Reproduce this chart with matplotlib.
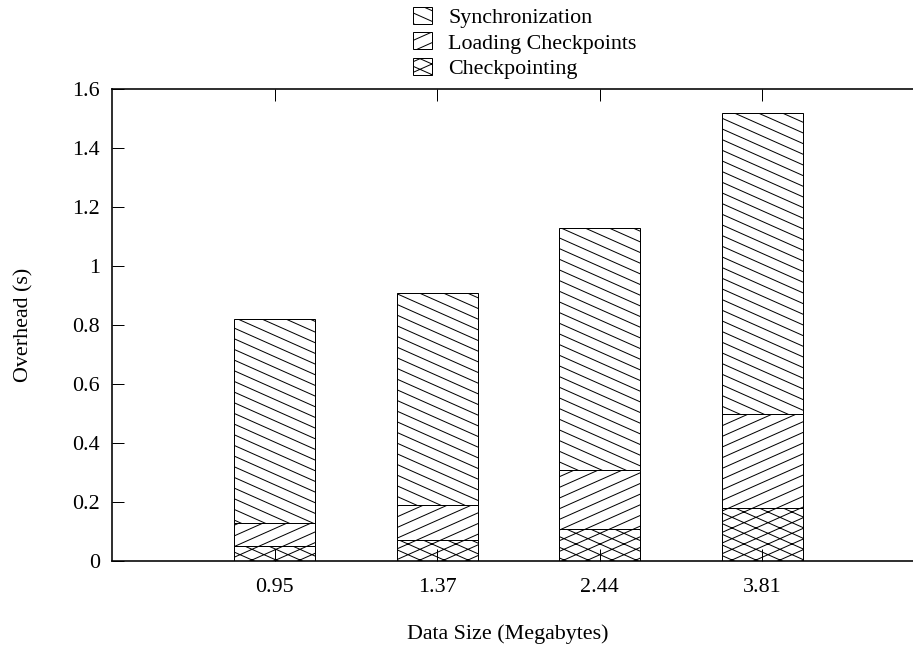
import numpy as np
import matplotlib
matplotlib.use("Agg")
import matplotlib.pyplot as plt
import matplotlib.hatch as mhatch
from matplotlib.patches import Rectangle

# --- dati ---
data_sizes = ["0.95", "1.37", "2.44", "3.81"]
checkpointing = [0.05, 0.07, 0.11, 0.18]
loading = [0.08, 0.12, 0.20, 0.32]          # loading checkpoints
synchronization = [0.69, 0.72, 0.82, 1.02]

N_LINES = 9      # hatch lines per tile
RISE = 4         # slope = RISE / N_LINES, keeps the tile periodic


# gnuplot-like shallow hatches instead of the 45 deg ones
class ShallowHatch(mhatch.HatchPatternBase):
    chars = ''
    sign = 1

    def __init__(self, hatch, density):
        count = sum(hatch.count(c) for c in self.chars)
        self.n = count * N_LINES
        if self.n:
            self.y0 = np.arange(-self.n, 2 * self.n + 1) / self.n
            self.num_vertices = 2 * len(self.y0)
        else:
            self.num_vertices = 0

    def set_vertices_and_codes(self, vertices, codes):
        vertices[0::2, 0] = 0.0
        vertices[0::2, 1] = self.y0
        vertices[1::2, 0] = 1.0
        vertices[1::2, 1] = self.y0 + self.sign * RISE / N_LINES
        codes[0::2] = mhatch.Path.MOVETO
        codes[1::2] = mhatch.Path.LINETO


class ShallowNE(ShallowHatch):
    chars = '/xX'
    sign = 1


class ShallowSE(ShallowHatch):
    chars = '\\xX'
    sign = -1


mhatch._hatch_types = [ShallowNE if t is mhatch.NorthEastHatch else
                       ShallowSE if t is mhatch.SouthEastHatch else t
                       for t in mhatch._hatch_types]

plt.rcParams['font.family'] = ['Liberation Serif', 'DejaVu Serif']
plt.rcParams['hatch.linewidth'] = 0.75
plt.rcParams['hatch.color'] = 'black'

DPI = 96
W, H = 913, 648
fig = plt.figure(figsize=(W / DPI, H / DPI), dpi=DPI)
ax = fig.add_axes([112 / W, 1 - 561 / H, (925 - 112) / W, (561 - 89) / H])

x = np.arange(1, len(data_sizes) + 1)
bw = 0.5
fs = 16.5

series = [
    ("Checkpointing", checkpointing, 'x'),
    ("Loading Checkpoints", loading, '/'),
    ("Synchronization", synchronization, '\\'),
]

bottom = np.zeros(len(x))
for label, vals, hatch in series:
    ax.bar(x, vals, bw, bottom=bottom, facecolor='white', edgecolor='black',
           linewidth=0.75, hatch=hatch, label=label)
    bottom += np.array(vals)

ax.set_xlim(0, 5)
ax.set_ylim(0, 1.6)
ax.set_xticks(x)
ax.set_xticklabels(data_sizes)
ax.set_yticks(np.arange(0, 1.61, 0.2))
ax.set_yticklabels(["0", "0.2", "0.4", "0.6", "0.8", "1", "1.2", "1.4", "1.6"])
ax.tick_params(direction='in', length=9, width=0.75, top=True, right=True,
               labelsize=fs, pad=9)
ax.tick_params(axis='x', pad=12.5)
for sp in ax.spines.values():
    sp.set_linewidth(1.2)

ax.set_xlabel("Data Size (Megabytes)", fontsize=fs, va='center')
ax.xaxis.set_label_coords((508 - 112) / 813, -(634 - 561) / 472)
ax.set_ylabel("Overhead (s)", fontsize=fs, va='center')
ax.yaxis.set_label_coords((24 - 112) / 813, 0.5)

handles = [Rectangle((0, 0), 1, 1, facecolor='white', edgecolor='black',
                     linewidth=0.75, hatch=h) for _, _, h in series[::-1]]
labels = [s[0] for s in series[::-1]]
fig.legend(handles, labels, loc='upper left', bbox_to_anchor=(413 / W, 1 - 7 / H),
           frameon=False, fontsize=fs, handlelength=0.85, handleheight=0.8,
           handletextpad=0.75, labelspacing=0.2, borderpad=0, borderaxespad=0)

fig.savefig("out.png", dpi=DPI)
